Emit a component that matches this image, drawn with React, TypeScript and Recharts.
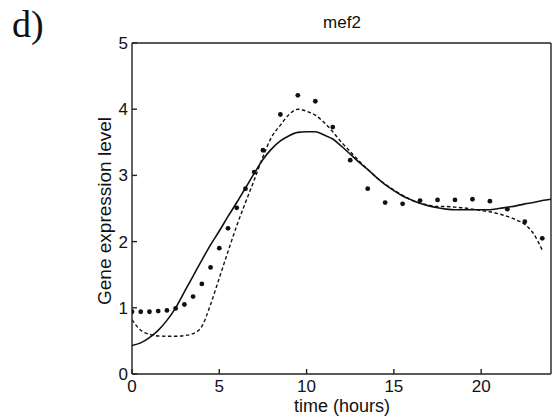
import { LineChart, Line, XAxis, YAxis } from "recharts";

// time grid for the two fitted curves (hours)
const curveHours = [
  0, 0.5, 1, 1.5, 2, 2.5, 3, 3.5, 4, 4.5, 5, 5.5, 6, 6.5, 7, 7.5, 8, 8.5, 9, 9.5, 10,
  10.5, 11, 11.5, 12, 12.5, 13, 13.5, 14, 14.5, 15, 15.5, 16, 16.5, 17, 17.5, 18, 18.5,
  19, 19.5, 20, 20.5, 21, 21.5, 22, 22.5, 23, 23.5, 24,
];

// solid model
const solidValues = [
  0.43, 0.47, 0.55, 0.66, 0.81, 1.0, 1.24, 1.48, 1.72, 1.95, 2.16, 2.38, 2.59, 2.81, 3.03,
  3.24, 3.4, 3.52, 3.6, 3.65, 3.66, 3.66, 3.61, 3.55, 3.44, 3.32, 3.2, 3.09, 2.97, 2.86,
  2.77, 2.69, 2.63, 2.58, 2.54, 2.51, 2.49, 2.48, 2.48, 2.48, 2.48, 2.48, 2.5, 2.52, 2.54,
  2.57, 2.59, 2.62, 2.64,
];

// dashed model (ends at 23.5h)
const dashedValues = [
  0.82, 0.66, 0.6, 0.575, 0.57, 0.57, 0.58, 0.61, 0.72, 1.05, 1.45, 1.85, 2.24, 2.59, 2.93,
  3.28, 3.58, 3.76, 3.92, 4.0, 3.97, 3.91, 3.8, 3.66, 3.5, 3.36, 3.22, 3.09, 2.97, 2.87,
  2.78, 2.7, 2.63, 2.58, 2.55, 2.53, 2.53, 2.52, 2.51, 2.49, 2.47, 2.45, 2.42, 2.38, 2.33,
  2.26, 2.12, 1.87, null,
];

// measured points
const dotHours = [
  0, 0.5, 1, 1.5, 2, 2.5, 3, 3.5, 4, 4.5, 5, 5.5, 6, 6.5, 7, 7.5, 8.5, 9.5, 10.5, 11.5,
  12.5, 13.5, 14.5, 15.5, 16.5, 17.5, 18.5, 19.5, 20.5, 21.5, 22.5, 23.5,
];
const dotValues = [
  0.94, 0.94, 0.94, 0.95, 0.96, 0.99, 1.05, 1.17, 1.36, 1.61, 1.9, 2.2, 2.51, 2.8, 3.05,
  3.38, 3.92, 4.21, 4.12, 3.73, 3.23, 2.8, 2.59, 2.57, 2.62, 2.63, 2.63, 2.64, 2.61, 2.49,
  2.3, 2.05,
];

const xTicks = [0, 5, 10, 15, 20];
const yTicks = [0, 1, 2, 3, 4, 5];

const solidData = curveHours.map((t, i) => ({ t, v: solidValues[i] }));
const dashedData = curveHours.map((t, i) => ({ t, v: dashedValues[i] }));
const dotData = dotHours.map((t, i) => ({ t, v: dotValues[i] }));

const font = "'Liberation Sans', Arial, sans-serif";
const axisColor = "#222";
const tickStyle = { fill: "#111", fontSize: 17, fontFamily: font };

export default function App() {
  return (
    <div style={{ position: "relative", width: 553, height: 419, background: "#fff" }}>
      <style>{`body{margin:0}`}</style>
      <LineChart
        width={553}
        height={419}
        margin={{ top: 41, right: 1, bottom: 15, left: 92 }}
      >
        <XAxis
          dataKey="t"
          type="number"
          domain={[0, 24]}
          ticks={xTicks}
          allowDataOverflow
          height={30}
          tickSize={-5}
          tickMargin={11}
          stroke={axisColor}
          strokeWidth={1.4}
          tick={tickStyle}
        />
        <XAxis
          xAxisId="top"
          dataKey="t"
          orientation="top"
          type="number"
          domain={[0, 24]}
          ticks={xTicks}
          height={2}
          tickSize={-5}
          tick={false}
          stroke={axisColor}
          strokeWidth={1.4}
        />
        <YAxis
          type="number"
          domain={[0, 5]}
          ticks={yTicks}
          width={40}
          tickSize={-5}
          tickMargin={9}
          stroke={axisColor}
          strokeWidth={1.4}
          tick={tickStyle}
        />
        <YAxis
          yAxisId="right"
          orientation="right"
          type="number"
          domain={[0, 5]}
          ticks={yTicks}
          width={1}
          tickSize={-5}
          tick={false}
          stroke={axisColor}
          strokeWidth={1.4}
        />
        <Line
          data={solidData}
          dataKey="v"
          type="monotone"
          stroke="#111"
          strokeWidth={1.6}
          dot={false}
          isAnimationActive={false}
        />
        <Line
          data={dashedData}
          dataKey="v"
          type="monotone"
          stroke="#111"
          strokeWidth={1.4}
          strokeDasharray="3.5 2.5"
          dot={false}
          isAnimationActive={false}
        />
        <Line
          data={dotData}
          dataKey="v"
          stroke="none"
          dot={{ r: 2.4, fill: "#111", stroke: "none" }}
          isAnimationActive={false}
        />
        {/* invisible series so the top and right axes get drawn */}
        <Line
          data={dotData}
          dataKey="v"
          xAxisId="top"
          yAxisId="right"
          stroke="none"
          dot={false}
          isAnimationActive={false}
        />
      </LineChart>
      <div
        style={{
          position: "absolute",
          left: 12,
          top: 2,
          fontFamily: "'Liberation Serif', 'Times New Roman', serif",
          fontSize: 38,
          lineHeight: "44px",
          color: "#111",
        }}
      >
        d)
      </div>
      <div
        style={{
          position: "absolute",
          left: 292,
          width: 100,
          top: 13,
          textAlign: "center",
          fontFamily: font,
          fontSize: 17,
          lineHeight: "20px",
          color: "#111",
        }}
      >
        mef2
      </div>
      <div
        style={{
          position: "absolute",
          left: 242,
          width: 200,
          top: 396,
          textAlign: "center",
          fontFamily: font,
          fontSize: 18,
          lineHeight: "20px",
          color: "#111",
        }}
      >
        time (hours)
      </div>
      <div
        style={{
          position: "absolute",
          left: 5,
          width: 200,
          top: 201,
          textAlign: "center",
          fontFamily: font,
          fontSize: 19,
          lineHeight: "20px",
          color: "#111",
          transform: "rotate(-90deg)",
          whiteSpace: "nowrap",
        }}
      >
        Gene expression level
      </div>
    </div>
  );
}
